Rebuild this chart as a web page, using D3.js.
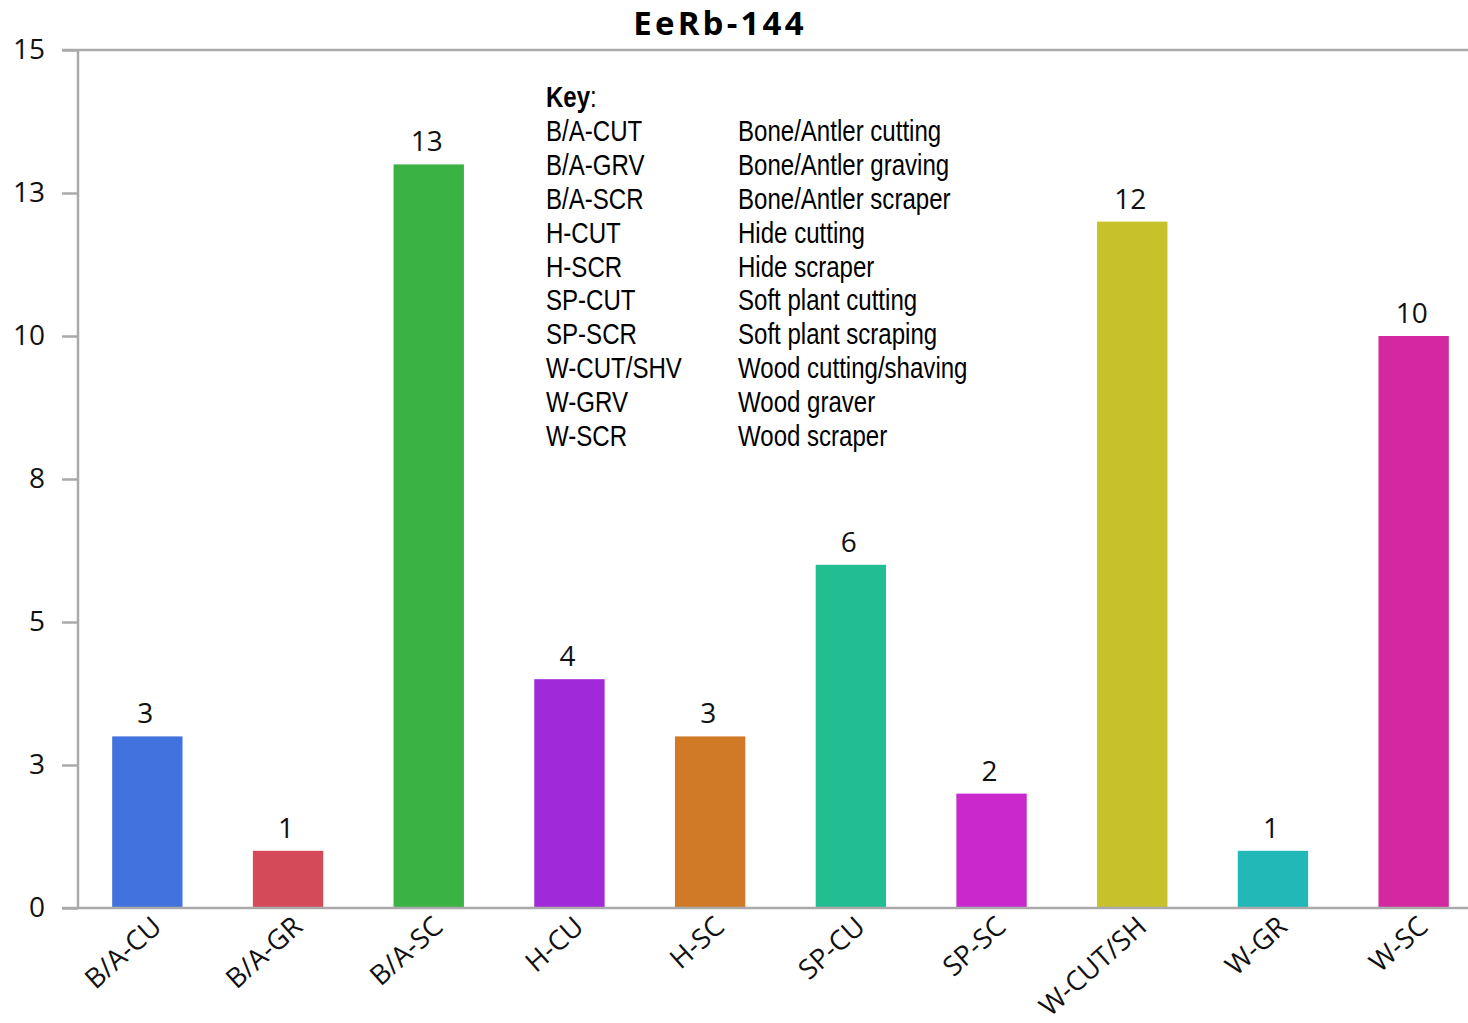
<!DOCTYPE html>
<html>
<head>
<meta charset="utf-8">
<script src="https://cdn.jsdelivr.net/npm/d3@7"></script>
<style>
  html, body { margin: 0; padding: 0; background: #fff; }
  svg { display: block; }
</style>
</head>
<body>
<svg id="chart" width="1468" height="1023"></svg>
<script>
const title = "EeRb-144";
const categories = ["B/A-CU", "B/A-GR", "B/A-SC", "H-CU", "H-SC", "SP-CU", "SP-SC", "W-CUT/SH", "W-GR", "W-SC"];
const values = [3, 1, 13, 4, 3, 6, 2, 12, 1, 10];
const colors = ["#4272dd", "#d44a58", "#3ab244", "#a02ad9", "#d07927", "#22bd91", "#c828cc", "#c8c22a", "#22b8b8", "#d428a0"];
const yTickValues = [0, 2.5, 5, 7.5, 10, 12.5, 15];
const yTickLabels = ["0", "3", "5", "8", "10", "13", "15"];
const keyCodes = ["B/A-CUT", "B/A-GRV", "B/A-SCR", "H-CUT", "H-SCR", "SP-CUT", "SP-SCR", "W-CUT/SHV", "W-GRV", "W-SCR"];
const keyDescriptions = ["Bone/Antler cutting", "Bone/Antler graving", "Bone/Antler scraper", "Hide cutting", "Hide scraper", "Soft plant cutting", "Soft plant scraping", "Wood cutting/shaving", "Wood graver", "Wood scraper"];

const W = 1468, H = 1023;
const mLeft = 78, mTop = 50, mBottom = 908;
const svg = d3.select("#chart");
const font = "'Open Sans', 'Noto Sans', sans-serif";
const axisColor = "#aaaaaa";
const labelSize = 28;

const x = d3.scaleBand().domain(categories).range([77, 1484]).paddingInner(0.5).paddingOuter(0.25);
const y = d3.scaleLinear().domain([0, 15]).range([mBottom, mTop]);

// title
svg.append("text")
  .attr("x", 720).attr("y", 35)
  .attr("text-anchor", "middle")
  .attr("font-family", font).attr("font-weight", 700)
  .attr("font-size", 33).attr("letter-spacing", 3.2)
  .attr("fill", "#000")
  .text(title);

// y axis
const yAxis = d3.axisLeft(y).tickValues(yTickValues)
  .tickFormat((d, i) => yTickLabels[i]).tickSize(16).tickPadding(17);
const gy = svg.append("g").attr("transform", `translate(${mLeft},0)`).call(yAxis);
gy.select(".domain").remove();
gy.selectAll(".tick line").attr("stroke", axisColor).attr("stroke-width", 2.5);
gy.selectAll(".tick text").attr("font-family", font).attr("font-size", labelSize).attr("fill", "#111");

// frame lines
svg.append("line").attr("x1", mLeft).attr("x2", mLeft).attr("y1", y(15)).attr("y2", y(0))
  .attr("stroke", axisColor).attr("stroke-width", 2.5);
svg.append("line").attr("x1", 62).attr("x2", W).attr("y1", y(15)).attr("y2", y(15))
  .attr("stroke", axisColor).attr("stroke-width", 2.5);

// bars
svg.append("g").selectAll("rect").data(categories).join("rect")
  .attr("x", d => x(d))
  .attr("width", x.bandwidth())
  .attr("y", (d, i) => y(values[i]))
  .attr("height", (d, i) => y(0) - y(values[i]))
  .attr("fill", (d, i) => colors[i]);

// bottom axis line
svg.append("line").attr("x1", 62).attr("x2", W).attr("y1", y(0)).attr("y2", y(0))
  .attr("stroke", axisColor).attr("stroke-width", 2.5);

// value labels
svg.append("g").selectAll("text").data(categories).join("text")
  .attr("x", d => x(d) + x.bandwidth() / 2 - 2)
  .attr("y", (d, i) => y(values[i]) - 13)
  .attr("text-anchor", "middle")
  .attr("font-family", font).attr("font-size", labelSize).attr("fill", "#111")
  .text((d, i) => values[i]);

// x labels
svg.append("g").selectAll("text").data(categories).join("text")
  .attr("transform", d => `translate(${x(d) + x.bandwidth() / 2 + 16},${y(0) + 21}) rotate(-42)`)
  .attr("text-anchor", "end")
  .attr("font-family", font).attr("font-size", 27.5).attr("fill", "#111")
  .text(d => d);

// key
const key = svg.append("g").attr("transform", "translate(546,0) scale(0.83,1)")
  .attr("font-family", "'Liberation Sans', Arial, sans-serif").attr("font-size", 29).attr("fill", "#000");
const keyTitle = key.append("text").attr("x", 0).attr("y", 107);
keyTitle.append("tspan").attr("font-weight", 700).text("Key");
keyTitle.append("tspan").text(":");
const rowH = 33.8;
key.selectAll("text.code").data(keyCodes).join("text").attr("class", "code")
  .attr("x", 0).attr("y", (d, i) => 141.5 + i * rowH).text(d => d);
key.selectAll("text.desc").data(keyDescriptions).join("text").attr("class", "desc")
  .attr("x", (738 - 546) / 0.83).attr("y", (d, i) => 141.5 + i * rowH).text(d => d);
</script>
</body>
</html>
